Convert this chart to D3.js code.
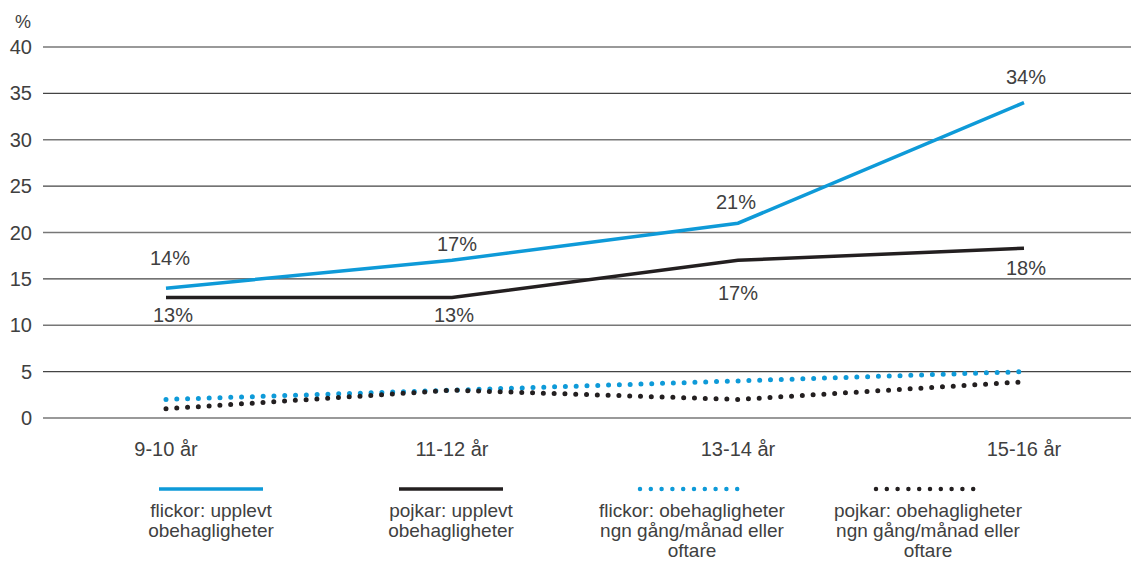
<!DOCTYPE html>
<html><head><meta charset="utf-8">
<script src="https://cdn.jsdelivr.net/npm/d3@7"></script>
<style>body{margin:0;background:#fff}svg{display:block;font-family:"Liberation Sans",Arial,Helvetica,sans-serif}</style>
</head><body><svg id="c" width="1131" height="562"></svg>
<script>
const categories = ["9-10 år","11-12 år","13-14 år","15-16 år"];
const girlsExperienced = [14,17,21,34];
const boysExperienced = [13,13,17,18.3];
const girlsMonthly = [2,3,4,5];
const boysMonthly = [1,3,2,3.9];
const yTicks = [0,5,10,15,20,25,30,35,40];
const legendLabels = [
  ["flickor: upplevt","obehagligheter"],
  ["pojkar: upplevt","obehagligheter"],
  ["flickor: obehagligheter","ngn gång/månad eller","oftare"],
  ["pojkar: obehagligheter","ngn gång/månad eller","oftare"]
];
// label nudges (layout only, relative to each point)
const girlsLabelNudge = [[4,-23],[5,-9],[-2,-14],[2,-19]];
const boysLabelNudge = [[7,25],[2,25],[0,40],[2,27]];

const blue="#0e9ad8", black="#231f20", txt="#404040";
const svg=d3.select("#c");
const x=d3.scalePoint().domain(categories).range([166,1024]);
const y=d3.scaleLinear().domain([0,40]).range([418,47]);

// gridlines
svg.append("g").selectAll("line").data(yTicks).join("line")
  .attr("x1",43).attr("x2",1131).attr("y1",d=>y(d)).attr("y2",d=>y(d))
  .attr("stroke",(d,i)=>i%2?"#444":"#777").attr("stroke-width",1.3);
svg.append("g").selectAll("text").data(yTicks).join("text")
  .attr("x",32).attr("y",d=>y(d)+7).attr("text-anchor","end")
  .attr("font-size",20).attr("fill",txt).text(d=>d);
svg.append("text").attr("x",23).attr("y",28).attr("text-anchor","middle").attr("font-size",18).attr("fill",txt).text("%");

// x labels
svg.append("g").selectAll("text").data(categories).join("text")
  .attr("x",d=>x(d)).attr("y",456).attr("text-anchor","middle")
  .attr("font-size",20).attr("fill",txt).text(d=>d);

const line=d3.line().x((d,i)=>x(categories[i])).y(d=>y(d));
const series=[
  {v:girlsExperienced,c:blue,dash:null,w:3.5},
  {v:boysExperienced,c:black,dash:null,w:3.5},
  {v:girlsMonthly,c:blue,dash:"0 10.8",w:5},
  {v:boysMonthly,c:black,dash:"0 10.8",w:5}
];
series.forEach(s=>{
  svg.append("path").attr("d",line(s.v)).attr("fill","none").attr("stroke",s.c)
    .attr("stroke-width",s.w).attr("stroke-dasharray",s.dash)
    .attr("stroke-linecap",s.dash?"round":"butt");
});

// value labels
svg.append("g").selectAll("text").data(girlsExperienced).join("text")
  .attr("x",(d,i)=>x(categories[i])+girlsLabelNudge[i][0]).attr("y",(d,i)=>y(d)+girlsLabelNudge[i][1]).attr("text-anchor","middle")
  .attr("font-size",20).attr("fill",txt).text(d=>Math.round(d)+"%");
svg.append("g").selectAll("text").data(boysExperienced).join("text")
  .attr("x",(d,i)=>x(categories[i])+boysLabelNudge[i][0]).attr("y",(d,i)=>y(d)+boysLabelNudge[i][1]).attr("text-anchor","middle")
  .attr("font-size",20).attr("fill",txt).text(d=>Math.round(d)+"%");

// legend
const lx=[211,451,692,928];
series.forEach((s,i)=>{
  svg.append("line").attr("x1",lx[i]-52).attr("x2",lx[i]+52).attr("y1",489).attr("y2",489)
    .attr("stroke",s.c).attr("stroke-width",s.dash?4.5:3.5).attr("stroke-dasharray",s.dash?"0 10.8":null)
    .attr("stroke-linecap",s.dash?"round":"butt");
  const t=svg.append("text").attr("text-anchor","middle").attr("font-size",19).attr("fill",txt);
  legendLabels[i].forEach((l,j)=>t.append("tspan").attr("x",lx[i]).attr("y",517+j*20).text(l));
});
</script></body></html>
